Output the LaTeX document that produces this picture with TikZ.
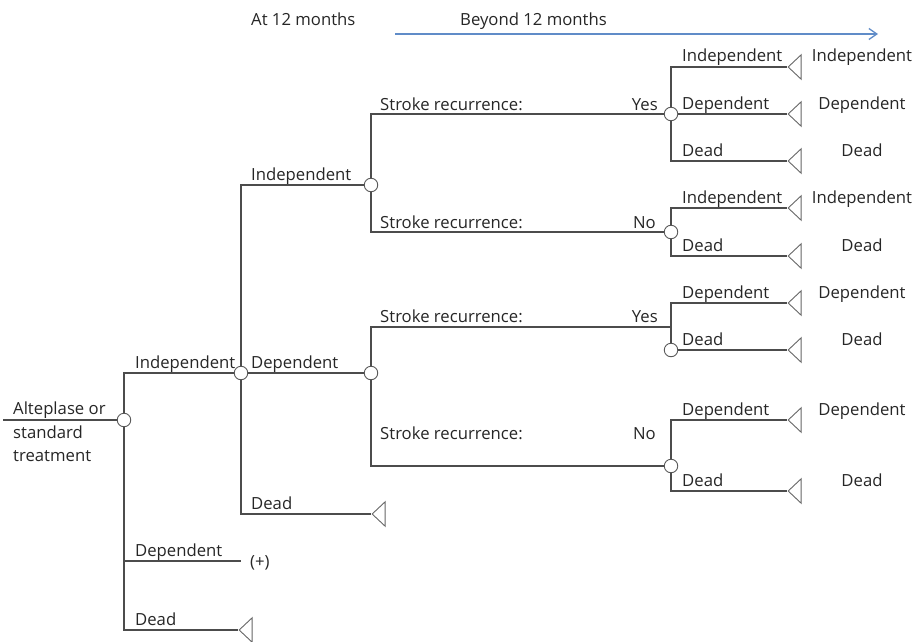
\documentclass[tikz,border=0pt]{standalone}
\usepackage{fontspec}
\setmainfont{Open Sans}
\usetikzlibrary{arrows.meta,shapes.geometric}
\definecolor{timeblue}{RGB}{96,140,200}
\tikzset{
  branch/.style={draw=black!70, line width=1.1pt},
  chance/.style={circle, draw=black!65, fill=white, line width=0.9pt, minimum size=13.5pt, inner sep=0pt},
  endtri/.style={isosceles triangle, shape border rotate=180, isosceles triangle stretches,
    draw=black!60, line width=0.9pt, minimum width=24.5pt, minimum height=13pt, inner sep=0pt, anchor=apex},
  lbl/.style={anchor=base west, inner sep=0pt, text=black!85},
  lble/.style={anchor=base east, inner sep=0pt, text=black!85},
  outc/.style={anchor=base, inner sep=0pt, text=black!85},
}
\begin{document}
\begin{tikzpicture}[x=1pt, y=-1pt, font=\fontsize{16.7}{23.5}\selectfont]
\useasboundingbox (0,0) rectangle (915,642);

% time line
\node[lbl] (at12) at (251,26) {At 12 months};
\node[lbl] (beyond) at (460,26) {Beyond 12 months};
\coordinate (tl0) at (395,34);
\coordinate (tl1) at (878,34);
\draw[timeblue, line width=1.3pt, -{Straight Barb[length=8pt,width=11pt]}] (tl0) -- (tl1);

% chance nodes
\node[chance] (c0) at (124,420) {};
\node[chance] (c1) at (241,373) {};
\node[chance] (c2) at (371,185) {};
\node[chance] (c3) at (371,373) {};
\node[chance] (c4) at (671,114) {};
\node[chance] (c5) at (671,232) {};
\node[chance] (c6) at (671,350) {};
\node[chance] (c7) at (671,466) {};

% terminal nodes
\node[endtri] (t1) at (787,67) {};
\node[endtri] (t2) at (787,114) {};
\node[endtri] (t3) at (787,161) {};
\node[endtri] (t4) at (787,208) {};
\node[endtri] (t5) at (787,256) {};
\node[endtri] (t6) at (787,303) {};
\node[endtri] (t7) at (787,350) {};
\node[endtri] (t8) at (787,420) {};
\node[endtri] (t9) at (787,491) {};
\node[endtri] (td1) at (371,514) {};
\node[endtri] (td0) at (238,630) {};

\coordinate (s0) at (3,420);
\coordinate (p0) at (241,561);
\coordinate (y6) at (671,327);

% branches
\draw[branch] (s0) -- (c0);
\draw[branch] (c0) |- (c1);
\draw[branch] (c0) |- (p0);
\draw[branch] (c0) |- (td0);
\draw[branch] (c1) |- (c2);
\draw[branch] (c1) -- (c3);
\draw[branch] (c1) |- (td1);
\draw[branch] (c2) |- (c4);
\draw[branch] (c2) |- (c5);
\draw[branch] (c3) |- (y6);
\draw[branch] (c3) |- (c7);
\draw[branch] (c4) |- (t1);
\draw[branch] (c4) -- (t2);
\draw[branch] (c4) |- (t3);
\draw[branch] (c5) |- (t4);
\draw[branch] (c5) |- (t5);
\draw[branch] (c6) |- (t6);
\draw[branch] (c6) -- (t7);
\draw[branch] (c7) |- (t8);
\draw[branch] (c7) |- (t9);

% labels
\node[anchor=north west, align=left, inner sep=0pt, text=black!85] (treat) at (13,402) {Alteplase or\\standard\\treatment};
\node[lbl] (l1) at (135,368) {Independent};
\node[lbl] (l2) at (135,556) {Dependent};
\node[lbl] (l3) at (135,625) {Dead};
\node[lbl] (plus) at (250,567) {(+)};
\node[lbl] (l4) at (251,180) {Independent};
\node[lbl] (l5) at (251,368) {Dependent};
\node[lbl] (l6) at (251,509) {Dead};
\node[lbl] (r1) at (380,110) {Stroke recurrence:};
\node[lble] (a1) at (658,110) {Yes};
\node[lbl] (r2) at (380,228) {Stroke recurrence:};
\node[lble] (a2) at (656,228) {No};
\node[lbl] (r3) at (380,322) {Stroke recurrence:};
\node[lble] (a3) at (658,322) {Yes};
\node[lbl] (r4) at (380,439) {Stroke recurrence:};
\node[lble] (a4) at (656,439) {No};

% states beyond 12 months
\foreach \yy/\txt [count=\i] in {62/Independent, 109/Dependent, 156/Dead, 203/Independent, 251/Dead,
    298/Dependent, 345/Dead, 415/Dependent, 486/Dead} {
  \node[lbl] (b\i) at (682,\yy) {\txt};
  \node[outc] (o\i) at (862,\yy) {\txt};
}
\end{tikzpicture}
\end{document}
